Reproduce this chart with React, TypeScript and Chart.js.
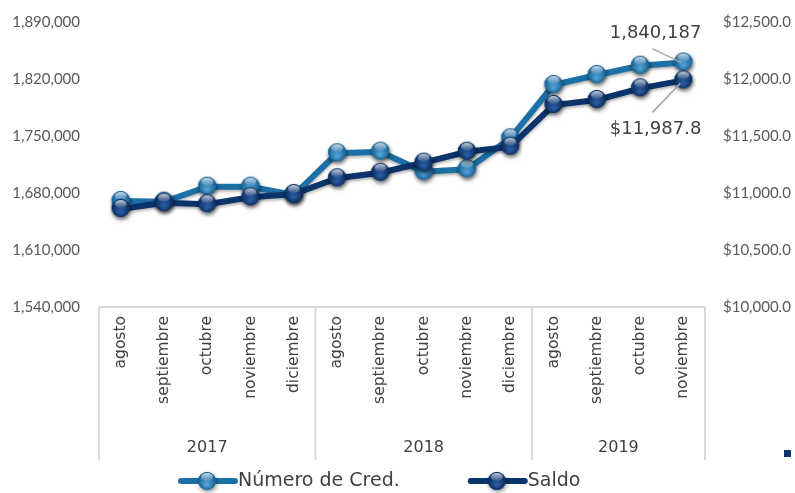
import React, { useEffect, useRef } from "react";
import { Chart, registerables } from "chart.js";

Chart.register(...registerables);

const months = [
  "agosto", "septiembre", "octubre", "noviembre", "diciembre",
  "agosto", "septiembre", "octubre", "noviembre", "diciembre",
  "agosto", "septiembre", "octubre", "noviembre",
];
const years = ["2017", "2018", "2019"];
const yearSpans = [5, 5, 4];
const creditos = [
  1670200, 1669300, 1687700, 1687700, 1677500,
  1728800, 1730700, 1706200, 1709100, 1747100,
  1812600, 1824900, 1836300, 1840187,
];
const saldo = [
  10860, 10915, 10901, 10962, 10991,
  11129, 11178, 11266, 11362, 11406,
  11772, 11816, 11918, 11987.8,
];
const seriesNames = ["Número de Cred.", "Saldo"];
const lastCredLabel = "1,840,187";
const lastSaldoLabel = "$11,987.8";

const FONT = "Lato, 'DejaVu Sans', sans-serif";
const FONT2 = "'DejaVu Sans', sans-serif";
const LIGHT = "#1d70a6";
const DARK = "#0b346c";

function makePoint(base: string, light: string, dark: string) {
  const c = document.createElement("canvas");
  c.width = 26;
  c.height = 26;
  const g = c.getContext("2d")!;
  g.save();
  g.shadowColor = "rgba(0,0,0,0.45)";
  g.shadowBlur = 4;
  g.shadowOffsetX = 1;
  g.shadowOffsetY = 2;
  g.beginPath();
  g.arc(13, 12, 9, 0, Math.PI * 2);
  g.fillStyle = base;
  g.fill();
  g.restore();
  const rg = g.createRadialGradient(13, 16, 1, 13, 12, 9.5);
  rg.addColorStop(0, light);
  rg.addColorStop(1, dark);
  g.beginPath();
  g.arc(13, 12, 9, 0, Math.PI * 2);
  g.fillStyle = rg;
  g.fill();
  const hg = g.createLinearGradient(0, 4, 0, 12);
  hg.addColorStop(0, "rgba(255,255,255,0.75)");
  hg.addColorStop(1, "rgba(255,255,255,0.05)");
  g.beginPath();
  g.ellipse(13, 8, 6, 4, 0, 0, Math.PI * 2);
  g.fillStyle = hg;
  g.fill();
  return c;
}

export default function App() {
  const ref = useRef<HTMLCanvasElement | null>(null);

  useEffect(() => {
    if (!ref.current) return;
    const pLight = makePoint(LIGHT, "#4fa0d6", "#135d8f");
    const pDark = makePoint(DARK, "#2a5aa0", "#08295a");

    const overlay = {
      id: "overlay",
      beforeDatasetsDraw(chart: any) {
        const ctx = chart.ctx;
        ctx.save();
        ctx.shadowColor = "rgba(0,0,0,0.3)";
        ctx.shadowBlur = 3;
        ctx.shadowOffsetY = 2;
      },
      afterDatasetsDraw(chart: any) {
        chart.ctx.restore();
      },
      afterDraw(chart: any) {
        const ctx = chart.ctx;
        const area = chart.chartArea;
        const xs = chart.scales.x;
        const step = xs.getPixelForValue(1) - xs.getPixelForValue(0);
        ctx.save();
        // category box lines
        ctx.strokeStyle = "#d9d9d9";
        ctx.lineWidth = 2;
        ctx.beginPath();
        ctx.moveTo(area.left, area.bottom);
        ctx.lineTo(area.right, area.bottom);
        let idx = 0;
        const bounds: number[] = [xs.getPixelForValue(0) - step / 2];
        yearSpans.forEach((n) => {
          idx += n;
          bounds.push(xs.getPixelForValue(idx - 1) + step / 2);
        });
        bounds.forEach((bx) => {
          ctx.moveTo(bx, area.bottom);
          ctx.lineTo(bx, 460);
        });
        ctx.stroke();
        // month labels
        ctx.fillStyle = "#404040";
        ctx.font = `15.5px ${FONT2}`;
        months.forEach((m, i) => {
          const px = xs.getPixelForValue(i);
          ctx.save();
          ctx.translate(px, area.bottom + 9);
          ctx.rotate(-Math.PI / 2);
          ctx.textAlign = "right";
          ctx.textBaseline = "middle";
          ctx.fillText(m, 0, 0);
          ctx.restore();
        });
        // year labels
        ctx.font = `16px ${FONT2}`;
        ctx.textAlign = "center";
        ctx.textBaseline = "middle";
        years.forEach((y, i) => {
          ctx.fillText(y, (bounds[i] + bounds[i + 1]) / 2, 448);
        });
        // data labels with leader lines
        const m0 = chart.getDatasetMeta(0).data[creditos.length - 1];
        const m1 = chart.getDatasetMeta(1).data[saldo.length - 1];
        ctx.strokeStyle = "#a6a6a6";
        ctx.lineWidth = 1.5;
        ctx.beginPath();
        ctx.moveTo(m0.x - 31, m0.y - 14);
        ctx.lineTo(m0.x - 2, m0.y);
        ctx.moveTo(m1.x - 31, m1.y + 32);
        ctx.lineTo(m1.x - 3, m1.y + 3);
        ctx.stroke();
        ctx.font = `18px ${FONT2}`;
        ctx.fillStyle = "#404040";
        ctx.textAlign = "right";
        ctx.textBaseline = "middle";
        ctx.fillText(lastCredLabel, m0.x + 18, m0.y - 29);
        ctx.fillText(lastSaldoLabel, m1.x + 18, m1.y + 49);
        // legend
        ctx.font = `19px ${FONT2}`;
        ctx.textAlign = "left";
        const ly = 481;
        let lx = 178;
        const drawItem = (color: string, img: HTMLCanvasElement, label: string) => {
          ctx.strokeStyle = color;
          ctx.lineWidth = 6;
          ctx.lineCap = "round";
          ctx.beginPath();
          ctx.moveTo(lx + 3, ly);
          ctx.lineTo(lx + 57, ly);
          ctx.stroke();
          ctx.drawImage(img, lx + 29 - 13, ly - 12);
          ctx.fillStyle = "#404040";
          ctx.fillText(label, lx + 60, ly);
          lx += 60 + ctx.measureText(label).width + 68;
        };
        drawItem(LIGHT, pLight, seriesNames[0]);
        drawItem(DARK, pDark, seriesNames[1]);
        // small square
        ctx.fillStyle = DARK;
        ctx.fillRect(784, 450, 7, 7);
        ctx.restore();
      },
    };

    const chart = new Chart(ref.current, {
      type: "line",
      data: {
        labels: months,
        datasets: [
          {
            label: seriesNames[0],
            data: creditos,
            yAxisID: "y",
            borderColor: LIGHT,
            borderWidth: 6,
            pointStyle: pLight as any,
            pointRadius: 9,
            order: 2,
            tension: 0,
          },
          {
            label: seriesNames[1],
            data: saldo,
            yAxisID: "y1",
            borderColor: DARK,
            borderWidth: 6,
            pointStyle: pDark as any,
            pointRadius: 9,
            order: 1,
            tension: 0,
          },
        ],
      },
      options: {
        animation: false,
        responsive: false,
        devicePixelRatio: 1,
        layout: { padding: { top: 22, bottom: 186, left: 0, right: 0 } },
        plugins: { legend: { display: false }, tooltip: { enabled: false } },
        scales: {
          x: { type: "category", display: false, offset: true },
          y: {
            position: "left",
            min: 1540000,
            max: 1890000,
            afterFit: (s: any) => { s.width = 99; s.paddingTop = 0; s.paddingBottom = 0; },
            grid: { display: false, drawTicks: false },
            border: { display: false },
            ticks: {
              stepSize: 70000,
              padding: 19,
              color: "#595959",
              font: { family: FONT, size: 15 },
              callback: (v: any) => Number(v).toLocaleString("en-US"),
            },
          },
          y1: {
            position: "right",
            min: 10000,
            max: 12500,
            afterFit: (s: any) => { s.width = 90; s.paddingTop = 0; s.paddingBottom = 0; },
            grid: { display: false, drawTicks: false },
            border: { display: false },
            ticks: {
              stepSize: 500,
              padding: 18,
              color: "#595959",
              font: { family: FONT, size: 15 },
              callback: (v: any) =>
                "$" + Number(v).toLocaleString("en-US", { minimumFractionDigits: 1, maximumFractionDigits: 1 }),
            },
          },
        },
      },
      plugins: [overlay],
    });
    return () => chart.destroy();
  }, []);

  return (
    <div style={{ position: "absolute", left: 0, top: 0, width: 795, height: 493, background: "#fff" }}>
      <canvas ref={ref} width={795} height={493} />
    </div>
  );
}
